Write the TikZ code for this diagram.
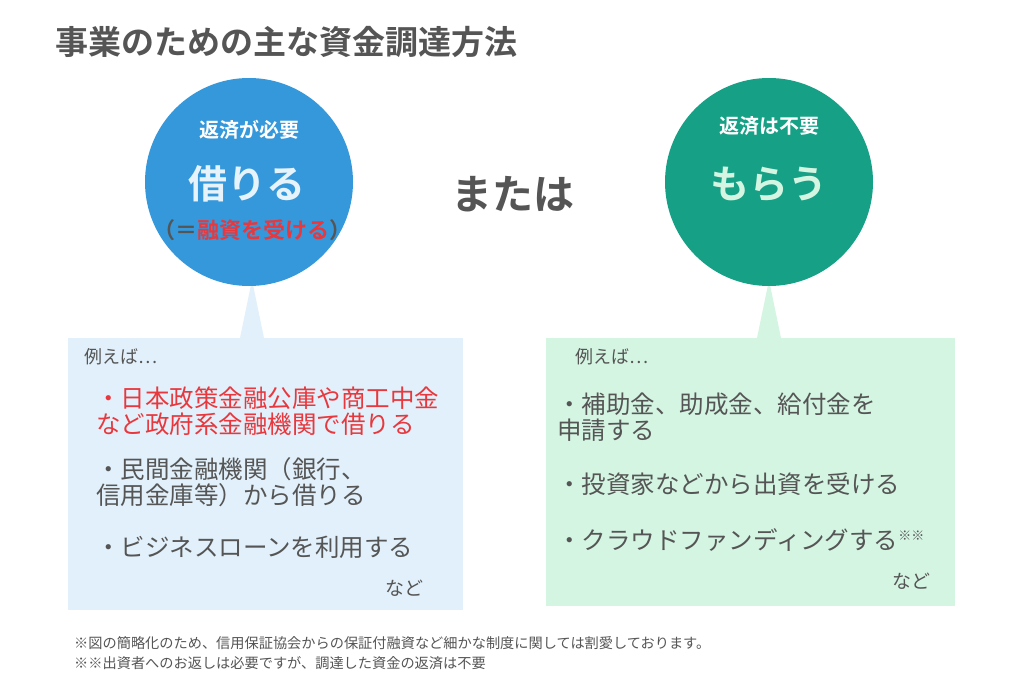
\documentclass[tikz,border=0pt]{standalone}
\usepackage{fontspec}
\setmainfont{Noto Sans CJK JP}
\newfontfamily\jpb{Noto Sans CJK JP Bold}
\definecolor{txt}{HTML}{555555}
\definecolor{blu}{HTML}{3498DB}
\definecolor{grn}{HTML}{16A085}
\definecolor{lblu}{HTML}{E1F0FA}
\definecolor{lgrn}{HTML}{D5F5E3}
\definecolor{rd}{HTML}{E8383D}
\begin{document}
\begin{tikzpicture}[x=1pt,y=-1pt,
  t/.style={inner sep=0pt,anchor=west,text=txt},
  fs/.style={font=\fontsize{#1}{#1}\selectfont}]
\useasboundingbox[fill=white] (0,0) rectangle (1024,685);
\node[t,fs=33] (title) at (55,42) {\jpb 事業のための主な資金調達方法};
% boxes
\fill[lblu] (68,338) rectangle (463,610);
\fill[lgrn] (546,338) rectangle (955,606);
\fill[lblu] (240,338) -- (252,280) -- (264,338) -- cycle;
\fill[lgrn] (757,338) -- (769,280) -- (781,338) -- cycle;
\node[circle,fill=blu,minimum size=208pt,inner sep=0] (cl) at (249,182) {};
\node[circle,fill=grn,minimum size=208pt,inner sep=0] (cr) at (769,182) {};
\node[inner sep=0,fs=20,text=white] (l1) at (249,130) {\jpb 返済が必要};
\node[inner sep=0,fs=39,text=lblu!80!white] (l2) at (247,184) {\jpb 借りる};
\node[inner sep=0,fs=22] (l3) at (252,230) {\jpb\textcolor{txt}{（＝}\textcolor{rd}{融資を受ける}\textcolor{txt}{）}};
\node[inner sep=0,fs=20,text=white] (r1) at (769,126) {\jpb 返済は不要};
\node[inner sep=0,fs=39,text=lgrn] (r2) at (769,184) {\jpb もらう};
\node[inner sep=0,fs=41,text=txt] (or) at (513,194) {\jpb または};
% left text
\node[t,fs=18] (le) at (84,357) {例えば…};
\node[t,fs=24.5,text=rd,align=left] (la) at (96,411) {・日本政策金融公庫や商工中金\\[2pt]など政府系金融機関で借りる};
\node[t,fs=24.5,align=left] (lb) at (96,482) {・民間金融機関（銀行、\\[2pt]信用金庫等）から借りる};
\node[t,fs=24.5] (lc) at (96,547) {・ビジネスローンを利用する};
\node[t,fs=19] (ld) at (385,588) {など};
% right text
\node[t,fs=18] (re) at (575,357) {例えば…};
\node[t,fs=24.5,align=left] (ra) at (557,417) {・補助金、助成金、給付金を\\[2pt]申請する};
\node[t,fs=24.5] (rb) at (557,484) {・投資家などから出資を受ける};
\node[t,fs=24.5] (rc) at (557,540) {・クラウドファンディングする\textsuperscript{\fontsize{13}{13}\selectfont ※※}};
\node[t,fs=19] (rd1) at (892,581) {など};
% footnotes
\node[t,fs=14.2] (f1) at (74,643) {※図の簡略化のため、信用保証協会からの保証付融資など細かな制度に関しては割愛しております。};
\node[t,fs=14.2] (f2) at (74,663) {※※出資者へのお返しは必要ですが、調達した資金の返済は不要};
\end{tikzpicture}
\end{document}
